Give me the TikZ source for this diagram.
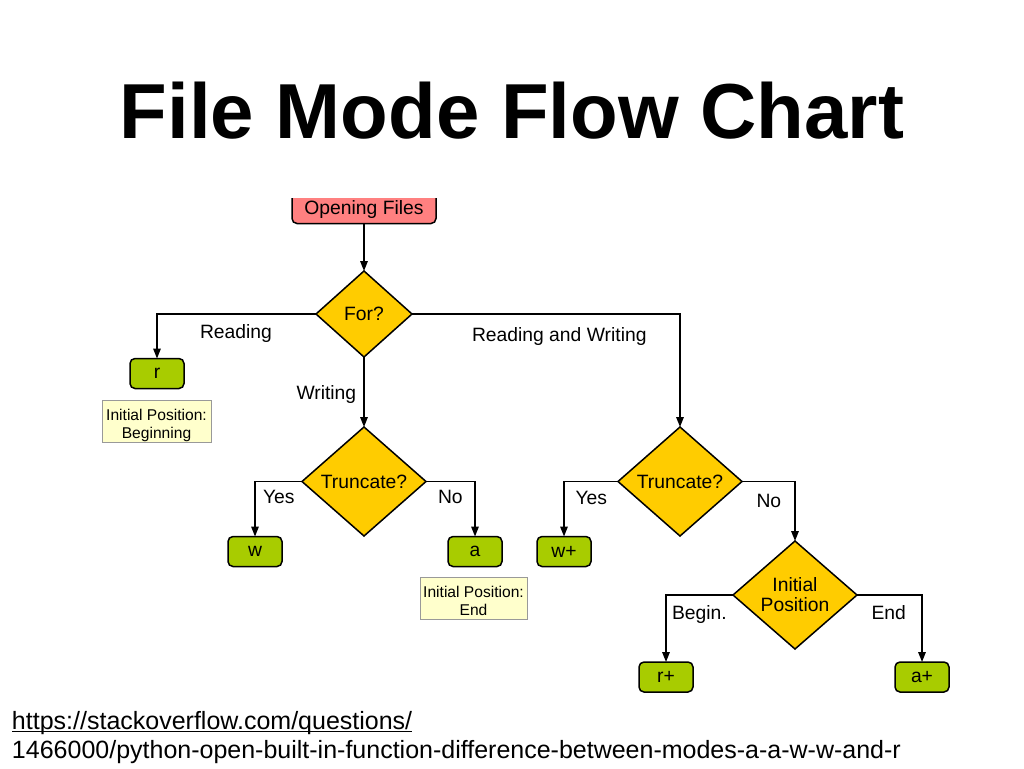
\documentclass[tikz,border=0pt]{standalone}
\usepackage{fontspec}
\setmainfont{Liberation Sans}
\usetikzlibrary{shapes.geometric,arrows.meta}
\definecolor{salmon}{HTML}{FF8080}
\definecolor{gold}{HTML}{FFCC00}
\definecolor{lime}{HTML}{A8CC00}
\definecolor{notefill}{HTML}{FFFFCC}
\definecolor{notedraw}{HTML}{999999}
\begin{document}
\begin{tikzpicture}[x=1pt,y=-1pt,
  every node/.style={inner sep=0pt, outer sep=0pt},
  dfont/.style={font=\fontsize{19.3}{20}\selectfont},
  lbl/.style={dfont, anchor=base west},
  startbox/.style={draw=black, line width=1.5pt, rounded corners=5pt, fill=salmon,
    minimum width=144pt, minimum height=32pt, text depth=0pt, dfont},
  modebox/.style={draw=black, line width=1.5pt, rounded corners=5pt, fill=lime,
    minimum width=54pt, minimum height=30pt, dfont},
  dia/.style={diamond, draw=black, line width=1.5pt, fill=gold, dfont},
  notebox/.style={draw=notedraw, line width=0.8pt, fill=notefill},
  notetext/.style={align=center, anchor=north, font=\fontsize{15.6}{17.7}\selectfont},
  arr/.style={-{Triangle[length=10pt,width=7.5pt]}, line width=1.5pt}
]
\useasboundingbox (0,0) rectangle (1024,768);

% title
\node[anchor=base, font=\bfseries\fontsize{78}{80}\selectfont] (title) at (512,138) {File Mode Flow Chart};

% start box (cut off at top)
\begin{scope}
  \clip (0,198) rectangle (1024,300);
  \node[startbox] (open) at (364,207.5) {Opening Files};
\end{scope}

% decisions
\node[dia, minimum width=96pt, minimum height=86pt] (for) at (364,314) {\makebox[0pt]{For?}};
\node[dia, minimum width=124pt, minimum height=109pt] (t1) at (364,481.5) {\makebox[0pt]{Truncate?}};
\node[dia, minimum width=124pt, minimum height=109pt] (t2) at (680,481.5) {\makebox[0pt]{Truncate?}};
\node[dia, minimum width=124pt, minimum height=108pt] (ip) at (795,595) {\makebox[0pt]{}};
\node[notetext, font=\fontsize{19.3}{20}\selectfont] (iptext) at (795,578) {Initial\\Position};

% modes
\node[modebox] (r)  at (157,373.5) {r};
\node[modebox] (w)  at (255,551.5) {w};
\node[modebox] (a)  at (475,551.5) {a};
\node[modebox] (wp) at (564,551.5) {w+};
\node[modebox] (rp) at (666,677) {r+};
\node[modebox] (ap) at (922,677) {a+};

% notes
\node[notebox, minimum width=109pt, minimum height=42pt] (n1) at (156.5,421) {};
\node[notetext] (n1text) at (156.5,409.3) {Initial Position:\\Beginning};
\node[notebox, minimum width=107pt, minimum height=42pt] (n2) at (473.5,598) {};
\node[notetext] (n2text) at (473.5,586.3) {Initial Position:\\End};

% connectors
\draw[arr] (open.south) -- (for.north);
\draw[arr] (for.west) -| (r.north);
\draw[arr] (for.south) -- (t1.north);
\draw[arr] (for.east) -| (t2.north);
\draw[arr] (t1.west) -| (w.north);
\draw[arr] (t1.east) -| (a.north);
\draw[arr] (t2.west) -| (wp.north);
\draw[arr] (t2.east) -| (ip.north);
\draw[arr] (ip.west) -| (rp.north);
\draw[arr] (ip.east) -| (ap.north);

% connector labels
\node[lbl] (lread)  at (200,338) {Reading};
\node[lbl] (lwrite) at (296.5,399) {Writing};
\node[lbl] (lrw)    at (472,341) {Reading and Writing};
\node[lbl] (ly1)    at (263,503.5) {Yes};
\node[lbl] (ln1)    at (438,503.5) {No};
\node[lbl] (ly2)    at (575.5,504) {Yes};
\node[lbl] (ln2)    at (756.5,507) {No};
\node[lbl] (lbeg)   at (672,619) {Begin.};
\node[lbl] (lend)   at (871.5,619) {End};

% source
\node[anchor=base west, font=\fontsize{25}{30}\selectfont] (url1) at (12,729) {https://stackoverflow.com/questions/};
\draw[line width=1.2pt] ([yshift=-2.5pt]url1.base west) -- ([yshift=-2.5pt]url1.base east);
\node[anchor=base west, font=\fontsize{25}{30}\selectfont] (url2) at (12,758) {1466000/python-open-built-in-function-difference-between-modes-a-a-w-w-and-r};
\end{tikzpicture}
\end{document}
